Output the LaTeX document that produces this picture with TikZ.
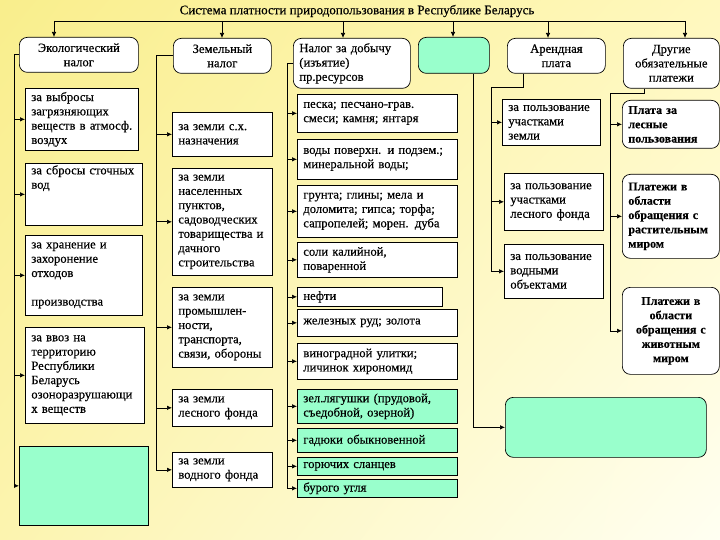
\documentclass[tikz,border=0pt]{standalone}
\usepackage{fontspec}
\setmainfont{Liberation Serif}[FakeBold=0.4]
\usetikzlibrary{arrows.meta,shadings}
\definecolor{mint}{RGB}{153,255,204}
\definecolor{bgTL}{RGB}{249,238,140}
\definecolor{bgTR}{RGB}{255,248,190}
\definecolor{bgBL}{RGB}{252,244,175}
\definecolor{bgBR}{RGB}{255,255,242}
\tikzset{
  cell/.style={draw, fill=white, anchor=north west, inner xsep=6pt, inner ysep=2pt,
    align=left, font=\fontsize{12.6}{14.3}\selectfont},
  head/.style={cell, rounded corners=8pt, align=center},
  mintcell/.style={cell, fill=mint},
  boldhead/.style={head, font=\fontsize{12}{14.3}\selectfont\bfseries},
}
\begin{document}
\begin{tikzpicture}[x=1pt,y=-1pt,>={Latex[length=5pt,width=4.5pt]},line width=0.7pt]
\useasboundingbox (0,0) rectangle (720,540);
\shade[upper left=bgTL,upper right=bgTR,lower left=bgBL,lower right=bgBR] (0,0) rectangle (720,540);

% title
\node[font=\fontsize{13}{15}\selectfont] (title) at (357,11) {Система платности природопользования в Республике Беларусь};

% top row
\node[head, text width=107pt, minimum height=35pt] (eco) at (19,37) {Экологический\\налог};
\node[head, text width=86pt, minimum height=35pt] (zem) at (173,38) {Земельный\\налог};
\node[head, align=left, text width=105pt, minimum height=50pt] (dob) at (293,38) {Налог за добычу\\(изъятие)\\пр.ресурсов};
\node[head, fill=mint, text width=59pt, minimum height=36pt] (mintTop) at (418,37) {};
\node[head, text width=86pt, minimum height=35pt] (rent) at (507,38) {Арендная\\плата};
\node[head, text width=84pt, minimum height=50pt] (other) at (623,38) {Другие\\обязательные\\платежи};

% ecological tax
\node[cell, text width=101pt, minimum height=62pt] (eco1) at (25,88) {за выбросы\\загрязняющих\\веществ в атмосф.\\воздух};
\node[cell, text width=105pt, text height=9pt, text depth=49pt] (eco2) at (25,163) {за сбросы сточных\\вод};
\node[cell, text width=105pt, minimum height=80pt] (eco3) at (25,235) {за хранение и\\захоронение\\отходов\\[14.3pt]производства};
\node[cell, text width=107pt, minimum height=96pt] (eco4) at (25,327) {за ввоз на\\территорию\\Республики\\Беларусь\\озоноразрушающи\\х веществ};
\node[mintcell, text width=117pt, minimum height=79pt] (eco5) at (19,446) {};

% land tax
\node[cell, text width=88pt, minimum height=44pt] (zem1) at (172,112) {за земли с.х.\\назначения};
\node[cell, text width=88pt, minimum height=107pt] (zem2) at (172,168) {за земли\\населенных\\пунктов,\\садоводческих\\товарищества и\\дачного\\строительства};
\node[cell, text width=88pt, minimum height=80pt] (zem3) at (172,287) {за земли\\промышлен-\\ности,\\транспорта,\\связи, обороны};
\node[cell, text width=88pt, minimum height=37pt] (zem4) at (172,389) {за земли\\лесного фонда};
\node[cell, text width=88pt, minimum height=35pt] (zem5) at (172,452) {за земли\\водного фонда};

% extraction tax
\node[cell, text width=148pt, minimum height=38pt] (dob1) at (297,94) {песка; песчано-грав.\\смеси; камня; янтаря};
\node[cell, text width=148pt, minimum height=40pt] (dob2) at (297,139) {воды поверхн. и подзем.;\\минеральной воды;};
\node[cell, text width=148pt, minimum height=52pt] (dob3) at (297,185) {грунта; глины; мела и\\доломита; гипса; торфа;\\сапропелей; морен. дуба};
\node[cell, text width=148pt, minimum height=35pt] (dob4) at (297,242) {соли калийной,\\поваренной};
\node[cell, text width=133pt, minimum height=19pt] (dob5) at (297,287) {нефти};
\node[cell, text width=148pt, minimum height=27pt] (dob6) at (297,309) {железных руд; золота};
\node[cell, text width=148pt, minimum height=36pt] (dob7) at (297,343) {виноградной улитки;\\личинок хирономид};
\node[mintcell, text width=148pt, minimum height=34pt] (dob8) at (297,389) {зел.лягушки (прудовой,\\съедобной, озерной)};
\node[mintcell, text width=148pt, minimum height=24pt] (dob9) at (297,428) {гадюки обыкновенной};
\node[mintcell, text width=148pt, minimum height=18pt] (dob10) at (297,457) {горючих сланцев};
\node[mintcell, text width=148pt, minimum height=18pt] (dob11) at (297,479) {бурого угля};

% rent
\node[cell, text width=86pt, minimum height=46pt] (rent1) at (502,99) {за пользование\\участками\\земли};
\node[cell, text width=87pt, minimum height=57pt] (rent2) at (504,173) {за пользование\\участками\\лесного фонда};
\node[cell, text width=87pt, minimum height=54pt] (rent3) at (504,244) {за пользование\\водными\\объектами};
\node[head, fill=mint, text width=189pt, minimum height=60pt] (mintBig) at (505,397) {};

% other payments
\node[boldhead, align=left, text width=85pt, minimum height=48pt] (other1) at (622,100) {Плата за\\лесные\\пользования};
\node[boldhead, align=left, text width=85pt, minimum height=84pt] (other2) at (622,174) {Платежи в\\области\\обращения с\\растительным\\миром};
\node[boldhead, text width=85pt, minimum height=87pt] (other3) at (622,287) {Платежи в\\области\\обращения с\\животным\\миром};

% bus from the title
\foreach \n/\x in {eco/54, zem/222, dob/343, mintTop/453, rent/548, other/685} {
  \coordinate (b-\n) at (\x,21);
  \draw[->] (b-\n) -- (b-\n |- \n.north);
}
\draw (b-eco) -- (b-other);

% trunks
\coordinate (ecoBus) at (14,0);
\coordinate (zemBus) at (156,0);
\coordinate (dobBus) at (287,0);
\coordinate (rentBend) at (491,87);
\coordinate (otherBend) at (610,93);

\draw[->] (eco.west) -- (eco.west -| ecoBus) |- (eco5.west);
\foreach \c in {eco1,eco2,eco3,eco4} \draw[->] (\c.west -| ecoBus) -- (\c.west);

\draw[->] (zem.west) -- (zem.west -| zemBus) |- (zem5.west);
\foreach \c in {zem1,zem2,zem3,zem4} \draw[->] (\c.west -| zemBus) -- (\c.west);

\draw[->] (dob.west) -- (dob.west -| dobBus) |- (dob11.west);
\foreach \c in {dob1,dob2,dob3,dob4,dob5,dob6,dob7,dob8,dob9,dob10} \draw[->] (\c.west -| dobBus) -- (\c.west);

\draw[->] ([xshift=19pt]mintTop.south) |- (mintBig.west);

\draw[->] ([xshift=-33pt]rent.south) |- (rentBend) |- (rent3.west);
\foreach \c in {rent1,rent2} \draw[->] (\c.west -| rentBend) -- (\c.west);

\draw[->] ([xshift=-27pt]other.south) |- (otherBend) |- (other3.west);
\foreach \c in {other1,other2} \draw[->] (\c.west -| otherBend) -- (\c.west);
\end{tikzpicture}
\end{document}
